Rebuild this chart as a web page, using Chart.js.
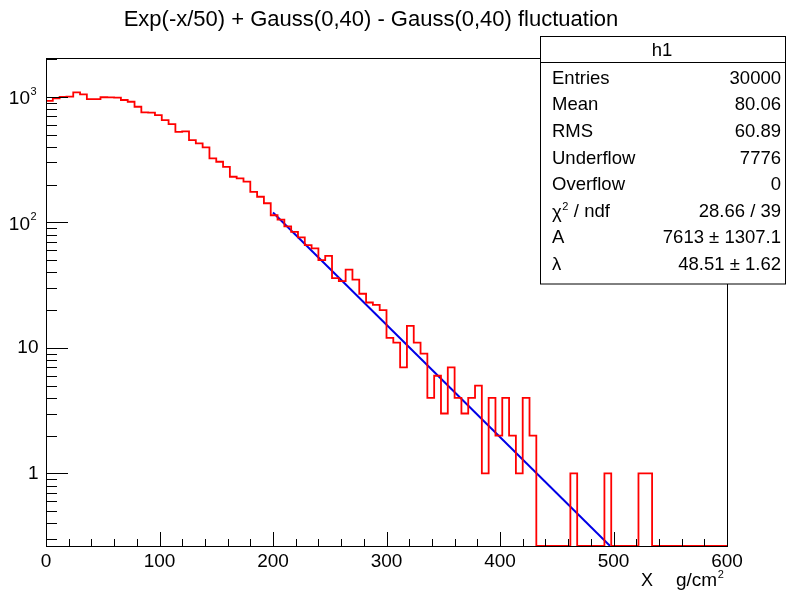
<!DOCTYPE html>
<html><head><meta charset="utf-8">
<script src="https://cdn.jsdelivr.net/npm/chart.js@4/dist/chart.umd.min.js"></script>
<style>html,body{margin:0;padding:0;background:#fff;}canvas{display:block}</style>
</head><body>
<div style="width:786px;height:593px;position:relative"><canvas id="c" width="786" height="593"></canvas></div>
<script>
// ---- data ----
const titleText = "Exp(-x/50) + Gauss(0,40) - Gauss(0,40) fluctuation";
const xMin = 0, xMax = 600;
const yMin = 0.264, yMax = 2040;
const binEdges = Array.from({length: 101}, (_, i) => i * 6);
const counts = [
  930, 975, 1000, 1003, 1086, 1047, 960, 958, 993, 990,
  987, 944, 914, 834, 752, 748, 716, 653, 607, 527,
  530, 453, 426, 396, 324, 304, 277, 231, 224, 211,
  175, 160, 142, 114, 105, 93, 84, 76, 66, 62,
  50, 54, 36, 34, 42, 35, 27, 23, 22, 20,
  12, 11, 7, 15, 11, 9, 4, 6, 3, 7,
  4, 3, 4, 5, 1, 4, 2, 4, 2, 1,
  4, 2, 0, 0, 0, 0, 0, 1, 0, 0,
  0, 0, 1, 0, 0, 0, 0, 1, 1, 0,
  0, 0, 0, 0, 0, 0, 0, 0, 0, 0
];
const fitX = [200, 497];
const fitY = [120, 0.264];
const xTickLabels = [0, 100, 200, 300, 400, 500, 600];
const xMinorStep = 20;
const yTickLabels = [{v:1, base:"1", exp:""}, {v:10, base:"10", exp:""}, {v:100, base:"10", exp:"2"}, {v:1000, base:"10", exp:"3"}];
const statsTitle = "h1";
const statsLabels = ["Entries", "Mean", "RMS", "Underflow", "Overflow", "χ2", "A", "λ"];
const statsValues = ["30000", "80.06", "60.89", "7776", "0", "28.66 / 39", "7613 ± 1307.1", "48.51 ± 1.62"];

// ---- build datasets ----
const histPts = binEdges.map((e, i) => {
  const c = counts[Math.min(i, counts.length - 1)];
  return {x: e, y: c > 0 ? c : yMin};
});
const fitPts = fitX.map((x, i) => ({x, y: fitY[i]}));

const FONT = '"Liberation Sans", Arial, Helvetica, sans-serif';

const rootPlugin = {
  id: 'rootStyle',
  afterDraw(chart) {
    const ctx = chart.ctx;
    const a = chart.chartArea;
    const xs = chart.scales.x, ys = chart.scales.y;
    ctx.save();
    ctx.strokeStyle = '#000';
    ctx.lineWidth = 1;
    // frame
    ctx.strokeRect(Math.round(a.left) + 0.5, Math.round(a.top) + 0.5, Math.round(a.right - a.left), Math.round(a.bottom - a.top));
    // x ticks
    ctx.beginPath();
    for (let v = xMin; v <= xMax; v += xMinorStep) {
      const px = Math.round(xs.getPixelForValue(v)) + 0.5;
      const len = (v % 100 === 0) ? 14 : 7;
      ctx.moveTo(px, a.bottom);
      ctx.lineTo(px, a.bottom - len);
    }
    // y ticks
    for (const d of [0.1, 1, 10, 100, 1000]) {
      for (let m = 1; m <= 9; m++) {
        const v = d * m;
        if (v < yMin || v > yMax) continue;
        const py = Math.round(ys.getPixelForValue(v)) + 0.5;
        const len = (m === 1) ? 22 : 11;
        ctx.moveTo(a.left, py);
        ctx.lineTo(a.left + len, py);
      }
    }
    ctx.stroke();
    ctx.fillStyle = '#000';
    // x labels
    ctx.font = '19px ' + FONT;
    ctx.textAlign = 'center';
    ctx.textBaseline = 'alphabetic';
    for (const v of xTickLabels) {
      ctx.fillText(String(v), xs.getPixelForValue(v), 567);
    }
    // y labels
    for (const t of yTickLabels) {
      const py = ys.getPixelForValue(t.v);
      ctx.textBaseline = 'middle';
      if (t.exp) {
        ctx.font = '19px ' + FONT;
        ctx.textAlign = 'right';
        ctx.fillText(t.base, 30, py + 2);
        ctx.font = '11px ' + FONT;
        ctx.textAlign = 'left';
        ctx.fillText(t.exp, 30.5, py - 5);
      } else {
        ctx.font = '19px ' + FONT;
        ctx.textAlign = 'right';
        ctx.fillText(t.base, 38.5, py);
      }
    }
    // x axis title
    ctx.textBaseline = 'alphabetic';
    ctx.font = '18px ' + FONT;
    ctx.textAlign = 'left';
    ctx.fillText('X', 641, 586);
    ctx.font = '19px ' + FONT;
    ctx.fillText('g/cm', 676, 586);
    const gw = ctx.measureText('g/cm').width;
    ctx.font = '11px ' + FONT;
    ctx.fillText('2', 676 + gw + 0.5, 578);
    // title
    ctx.font = '22px ' + FONT;
    ctx.textAlign = 'center';
    ctx.fillText(titleText, 371, 26);
    // stats box
    const bx = 540.5, by = 36.5, bw = 245, bh = 247.5;
    ctx.fillStyle = '#fff';
    ctx.fillRect(bx, by, bw, bh);
    ctx.strokeRect(bx, by, bw, bh);
    ctx.beginPath();
    ctx.moveTo(bx, 62.5); ctx.lineTo(bx + bw, 62.5);
    ctx.stroke();
    ctx.fillStyle = '#000';
    ctx.font = '18.5px ' + FONT;
    ctx.textAlign = 'center';
    ctx.textBaseline = 'middle';
    ctx.fillText(statsTitle, 662, 51);
    statsLabels.forEach((lab, k) => {
      const yc = 78.8 + 26.6 * k;
      ctx.textAlign = 'left';
      ctx.font = '18.5px ' + FONT;
      if (lab === 'χ2') {
        ctx.fillText('χ', 552, yc + 1);
        const w = ctx.measureText('χ').width;
        ctx.font = '11px ' + FONT;
        ctx.fillText('2', 552 + w + 0.5, yc - 5);
        ctx.font = '18.5px ' + FONT;
        ctx.fillText(' / ndf', 552 + w + 7, yc);
      } else {
        ctx.fillText(lab, 552, yc);
      }
      ctx.textAlign = 'right';
      ctx.fillText(statsValues[k], 781, yc);
    });
    ctx.restore();
  }
};

new Chart(document.getElementById('c').getContext('2d'), {
  type: 'line',
  data: {
    datasets: [
      {data: histPts, stepped: true, borderColor: '#ff0000', borderWidth: 1.8, pointRadius: 0, fill: false, tension: 0},
      {data: fitPts, borderColor: '#0000e6', borderWidth: 2, pointRadius: 0, fill: false, tension: 0}
    ]
  },
  options: {
    responsive: false,
    animation: false,
    events: [],
    layout: {padding: {left: 46, top: 58, right: 59, bottom: 47}},
    plugins: {legend: {display: false}, tooltip: {enabled: false}, title: {display: false}},
    scales: {
      x: {type: 'linear', min: xMin, max: xMax, display: false},
      y: {type: 'logarithmic', min: yMin, max: yMax, display: false}
    }
  },
  plugins: [rootPlugin]
});
</script>
</body></html>
